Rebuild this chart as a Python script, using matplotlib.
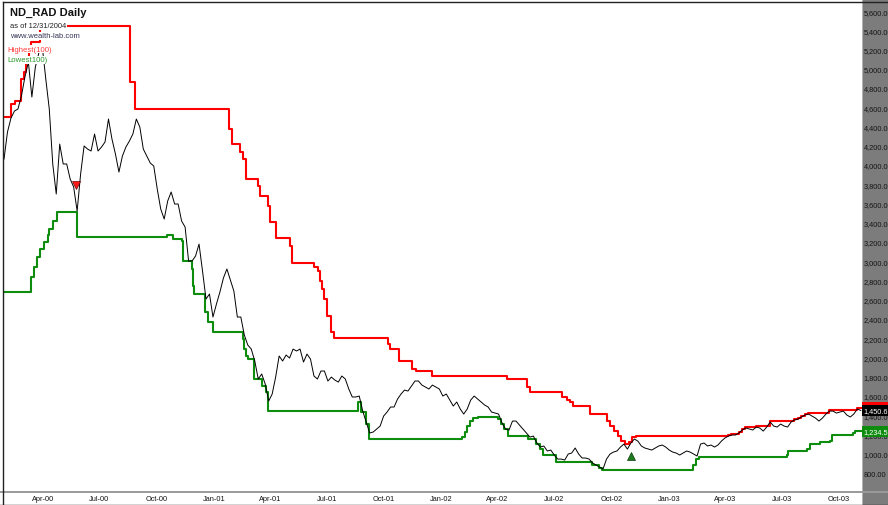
import numpy as np
import pandas as pd
import matplotlib
matplotlib.use("Agg")
import matplotlib.pyplot as plt
import matplotlib.dates as mdates
import matplotlib.transforms as mtransforms
from matplotlib.lines import Line2D
from matplotlib.patches import Rectangle

plt.rcParams['font.family'] = ['Liberation Sans', 'DejaVu Sans']

# price, sampled at evenly spaced dates between first and last bar
first_day = '2000-01-30'
last_day = '2003-11-05'
price_close = [
    4062, 4343, 4488, 4561, 4582, 4717, 4914, 5070, 4707, 5018,
    5164, 5226, 4894, 4582, 4011, 3699, 4218, 4011, 4011, 3855,
    3772, 3522, 3907, 4198, 4166, 4146, 4322, 4146, 4187, 4239,
    4478, 4270, 4114, 3927, 4094, 4187, 4249, 4322, 4478, 4395,
    4166, 4094, 4021, 3990, 3751, 3543, 3439, 3626, 3720, 3595,
    3595, 3418, 3356, 3003, 3003, 3055, 3179, 2899, 2608, 2660,
    2421, 2556, 2681, 2826, 2920, 2805, 2691, 2421, 2421, 2234,
    2130, 2088, 1964, 1777, 1829, 1725, 1548, 1621, 1797, 2016,
    1964, 2026, 1995, 2088, 2068, 2088, 1953, 2036, 1984, 1808,
    1777, 1860, 1860, 1756, 1797, 1766, 1745, 1808, 1777, 1673,
    1590, 1590, 1600, 1444, 1330, 1216, 1226, 1257, 1288, 1392,
    1434, 1486, 1486, 1569, 1621, 1662, 1652, 1704, 1756, 1756,
    1714, 1694, 1673, 1714, 1694, 1673, 1600, 1621, 1558, 1496,
    1538, 1465, 1413, 1465, 1558, 1600, 1569, 1538, 1507, 1486,
    1434, 1423, 1413, 1320, 1257, 1247, 1340, 1340, 1299, 1257,
    1216, 1174, 1184, 1112, 1070, 1081, 1029, 1039, 987, 945,
    945, 935, 997, 1008, 1060, 997, 956, 956, 945, 904,
    883, 862, 842, 945, 997, 1018, 1029, 1070, 1101, 1049,
    1112, 1153, 1132, 1081, 1060, 1049, 1039, 1060, 1081, 1091,
    1070, 1039, 1018, 1008, 987, 1008, 1029, 1018, 997, 977,
    1101, 1112, 1081, 1091, 1070, 1091, 1132, 1164, 1184, 1195,
    1195, 1216, 1247, 1268, 1257, 1247, 1278, 1268, 1236, 1278,
    1330, 1288, 1278, 1309, 1288, 1278, 1330, 1351, 1361, 1382,
    1403, 1413, 1392, 1371, 1340, 1371, 1413, 1444, 1444, 1423,
    1434, 1444, 1403, 1382, 1413, 1465, 1450.63,
]

# Highest(100): date where each level starts
red_dates = ['2000-01-30', '2000-02-11', '2000-02-16', '2000-02-26', '2000-03-02',
             '2000-03-05', '2000-03-10', '2000-03-13', '2000-03-28', '2000-08-19',
             '2000-08-27', '2001-01-25', '2001-01-30', '2001-02-12', '2001-02-17',
             '2001-02-21', '2001-03-13', '2001-03-16', '2001-03-29', '2001-04-01',
             '2001-04-11', '2001-05-03', '2001-05-06', '2001-06-11', '2001-06-17',
             '2001-06-20', '2001-06-23', '2001-06-27', '2001-07-01', '2001-07-08',
             '2001-07-13', '2001-10-07', '2001-10-11', '2001-10-25', '2001-11-15',
             '2001-11-21', '2001-12-17', '2002-04-16', '2002-05-18', '2002-05-23',
             '2002-07-14', '2002-07-22', '2002-07-26', '2002-07-31', '2002-08-28',
             '2002-09-24', '2002-09-29', '2002-10-05', '2002-10-11', '2002-10-17',
             '2002-10-23', '2002-10-29', '2002-11-03', '2002-11-09', '2003-04-06',
             '2003-04-11', '2003-04-23', '2003-04-28', '2003-05-04', '2003-05-21',
             '2003-06-12', '2003-07-21', '2003-07-27', '2003-08-01', '2003-08-07',
             '2003-08-12', '2003-09-15', '2003-10-30']
red_levels = [4500, 4634, 4665, 4894, 4966, 5070, 5237, 5278, 5444, 4862,
              4582, 4374, 4218, 4135, 4062, 3855, 3782, 3678, 3574, 3408,
              3242, 3159, 2982, 2940, 2899, 2795, 2712, 2608, 2431, 2265,
              2203, 2140, 2088, 1964, 1881, 1860, 1808, 1777, 1694, 1642,
              1590, 1558, 1538, 1496, 1413, 1340, 1288, 1236, 1184, 1132,
              1101, 1122, 1174, 1184, 1195, 1205, 1228, 1258, 1280, 1290,
              1342, 1362, 1372, 1393, 1412, 1425, 1456, 1478]

# Lowest(100)
green_dates = ['2000-01-30', '2000-03-13', '2000-03-18', '2000-03-23', '2000-03-28',
               '2000-04-03', '2000-04-09', '2000-04-12', '2000-04-17', '2000-04-24',
               '2000-05-26', '2000-10-18', '2000-10-27', '2000-11-11', '2000-11-12',
               '2000-11-27', '2000-11-28', '2000-11-30', '2000-12-18', '2000-12-22',
               '2000-12-30', '2001-02-17', '2001-02-18', '2001-02-21', '2001-02-25',
               '2001-03-06', '2001-03-19', '2001-03-26', '2001-03-29', '2001-08-20',
               '2001-08-25', '2001-09-02', '2001-09-06', '2002-02-03', '2002-02-08',
               '2002-02-11', '2002-02-16', '2002-02-21', '2002-03-01', '2002-04-02',
               '2002-04-06', '2002-04-12', '2002-04-18', '2002-05-20', '2002-06-02',
               '2002-06-08', '2002-06-13', '2002-07-04', '2002-08-30', '2002-09-11',
               '2002-09-16', '2003-02-09', '2003-02-14', '2003-02-18', '2003-07-10',
               '2003-07-11', '2003-08-11', '2003-08-16', '2003-09-01', '2003-09-17',
               '2003-09-20', '2003-10-24', '2003-10-27']
green_levels = [2681, 2836, 2940, 3044, 3127, 3200, 3273, 3335, 3418, 3512,
                3252, 3273, 3231, 3210, 3003, 2920, 2743, 2660, 2473, 2369,
                2265, 2192, 2088, 2016, 1984, 1777, 1704, 1642, 1444, 1538,
                1434, 1309, 1153, 1174, 1226, 1288, 1340, 1371, 1382, 1361,
                1309, 1257, 1184, 1153, 1101, 1049, 987, 914, 883, 852,
                831, 883, 945, 966, 987, 1029, 1049, 1101, 1122, 1132,
                1195, 1216, 1234.53]

# trade signals
sell_date, sell_price = '2000-05-24', 3792
buy_date, buy_price = '2002-11-01', 977

y_ticks = np.arange(800, 5601, 200)
x_ticks = pd.date_range('2000-04-01', '2003-10-01', freq='QS')

W, H = 888, 506
fig = plt.figure(figsize=(W / 100, H / 100), dpi=100)
fig.patch.set_facecolor('white')

# grey price panel on the right
fig.add_artist(Rectangle((862 / W, 0), 26 / W, 1, transform=fig.transFigure,
                         facecolor='#7c7c7c', edgecolor='none', zorder=-1))
fig.add_artist(Rectangle((861.5 / W, 0), 1.5 / W, 1, transform=fig.transFigure,
                         facecolor='#b4b4b4', edgecolor='none', zorder=-1))

ax = fig.add_axes([4 / W, 13 / H, 858 / W, 490 / H])
ax.set_facecolor('white')

dates = pd.date_range(first_day, last_day, periods=len(price_close))
end = pd.Timestamp(last_day)

rd = list(pd.to_datetime(red_dates)) + [end]
rl = red_levels + [red_levels[-1]]
gd = list(pd.to_datetime(green_dates)) + [end]
gl = green_levels + [green_levels[-1]]

ax.step(rd, rl, where='post', color='#ff0000', lw=1.5, zorder=2)
ax.step(gd, gl, where='post', color='#0d8c0d', lw=1.5, zorder=2)
ax.plot(dates, price_close, color='black', lw=0.7, zorder=3)

ax.plot([pd.Timestamp(sell_date)], [sell_price], marker='v', ms=5.5,
        color='#ff1a1a', mec='#700000', mew=0.5, zorder=4)
ax.plot([pd.Timestamp(buy_date)], [buy_price], marker='^', ms=5.5,
        color='#1f7a1f', mec='#0a3a0a', mew=0.5, zorder=4)

ax.set_xlim(pd.Timestamp('2000-01-30'), pd.Timestamp('2003-11-07'))
ax.set_ylim(603, 5694)

for s in ['right', 'bottom', 'left', 'top']:
    ax.spines[s].set_visible(False)

ax.set_xticks(x_ticks)
ax.xaxis.set_major_formatter(mdates.DateFormatter('%b-%y'))
ax.tick_params(axis='x', length=0, pad=2.2, labelsize=5.3, labelcolor='#111111')

ax.yaxis.tick_right()
ax.set_yticks(y_ticks)
ax.yaxis.set_major_formatter(plt.FuncFormatter(lambda v, p: f'{v:,.2f}'))
ax.tick_params(axis='y', length=0, pad=1.0, labelsize=5.3, labelcolor='#151515')

# last value boxes on the price scale
tr = mtransforms.blended_transform_factory(ax.transAxes, ax.transData)
for val, bg in [(red_levels[-1], '#ff0000'), (price_close[-1], 'black'),
                (green_levels[-1], '#0d8c0d')]:
    ax.text(1.0 + 1.5 / 858, val, f'{val:,.2f}', transform=tr, ha='left',
            va='center', fontsize=5.3, color='white', clip_on=False, zorder=6,
            bbox=dict(boxstyle='square,pad=0.25', fc=bg, ec='none'))

# frame lines
fig.add_artist(Line2D([0, 1], [1 - 493 / H] * 2, transform=fig.transFigure,
                      color='#9a9a9a', lw=1.4))
fig.add_artist(Line2D([3 / W, 1], [1 - 3 / H] * 2, transform=fig.transFigure,
                      color='#222222', lw=1.0))
fig.add_artist(Line2D([3 / W] * 2, [0, 1 - 3 / H], transform=fig.transFigure,
                      color='#222222', lw=1.0))
fig.add_artist(Line2D([0, 1], [0.5 / H] * 2, transform=fig.transFigure,
                      color='#222222', lw=1.0))

# header texts
wbox = dict(boxstyle='square,pad=0.12', fc='white', ec='none')
fig.text(10 / W, 1 - 13 / H, 'ND_RAD Daily', fontsize=8, fontweight='bold',
         va='center', ha='left', color='#111111', bbox=wbox)
fig.text(10 / W, 1 - 27 / H, 'as of 12/31/2004', fontsize=5.4, va='center',
         ha='left', color='#222222', bbox=wbox)
fig.text(10 / W, 1 - 37 / H, 'www.wealth-lab.com', fontsize=5.5, va='center',
         ha='left', color='#333355', bbox=wbox)
fig.text(7 / W, 1 - 50 / H, 'Highest(100)', fontsize=5.6, va='center',
         ha='left', color='#ff3c3c', bbox=wbox)
fig.text(7 / W, 1 - 61 / H, 'Lowest100)', fontsize=5.6, va='center',
         ha='left', color='#2a9a2a', bbox=wbox)

fig.savefig('out.png', dpi=100)
